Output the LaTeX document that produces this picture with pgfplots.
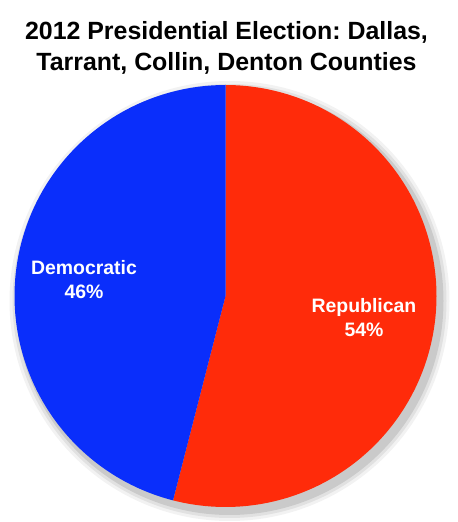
\documentclass[border=0pt]{standalone}
\usepackage{pgfplots}
\usepackage{pgfplotstable}
\usepackage{fontspec}
\setmainfont{Liberation Sans}
\pgfplotsset{compat=1.18}
\frenchspacing
\definecolor{repRed}{HTML}{FF2B0A}
\definecolor{demBlue}{HTML}{0A2EFB}

% vote shares (percent)
\pgfplotstableread{
party share
Republican 54
Democratic 46
}\votes
\pgfplotstablegetelem{0}{share}\of\votes \let\rep\pgfplotsretval
\pgfplotstablegetelem{1}{share}\of\votes \let\dem\pgfplotsretval
\pgfmathsetmacro{\cut}{90-3.6*\rep}
\pgfmathsetmacro{\cutB}{\cut+360}
\def\cx{225.5}\def\cy{226}\def\rr{211}

\begin{document}
\begin{tikzpicture}
\begin{axis}[
  width=458bp, height=522bp, scale only axis,
  xmin=0, xmax=458, ymin=0, ymax=522,
  hide axis, clip=false
]
\path (axis cs:0,0) rectangle (axis cs:458,522);
% soft shadow behind the pie
\fill[black, opacity=0.05] (axis cs:229.5,221) circle[radius=220];
\fill[black, opacity=0.07] (axis cs:229.5,221) circle[radius=217];
\fill[black, opacity=0.10] (axis cs:229.5,221) circle[radius=214];
\addplot[fill=repRed, draw=none, domain=\cut:90, samples=150, variable=\t]
  ({\cx+\rr*cos(\t)},{\cy+\rr*sin(\t)}) -- (axis cs:\cx,\cy) -- cycle;
\addplot[fill=demBlue, draw=none, domain=90:\cutB, samples=150, variable=\t]
  ({\cx+\rr*cos(\t)},{\cy+\rr*sin(\t)}) -- (axis cs:\cx,\cy) -- cycle;
% title
\node[align=center, font=\fontsize{25}{31.5}\selectfont\bfseries]
  at (axis cs:226.5,474) {2012 Presidential Election: Dallas,\\Tarrant, Collin, Denton Counties};
% slice labels
\node[align=center, font=\fontsize{19.5}{24}\selectfont\bfseries, text=white]
  at (axis cs:84,242) {Democratic\\\dem\%};
\node[align=center, font=\fontsize{19.5}{24}\selectfont\bfseries, text=white]
  at (axis cs:364,204) {Republican\\\rep\%};
\end{axis}
\end{tikzpicture}
\end{document}
